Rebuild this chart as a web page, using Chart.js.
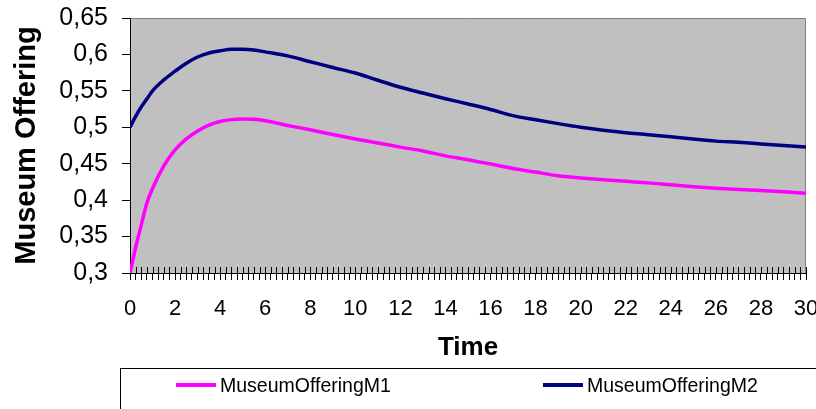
<!DOCTYPE html>
<html>
<head>
<meta charset="utf-8">
<script src="https://cdn.jsdelivr.net/npm/chart.js@4.4.1/dist/chart.umd.min.js"></script>
<style>
  body { margin: 0; background: #fff; overflow: hidden; }
  #wrap { position: relative; width: 816px; height: 409px; }
  #legend {
    position: absolute; left: 120px; top: 368px; width: 720px; height: 60px;
    border: 1px solid #000; box-sizing: border-box;
    font-family: "Liberation Sans", Arial, sans-serif; font-size: 19.5px; color: #000;
  }
  .item { position: absolute; top: 2px; height: 28px; display: flex; align-items: center; }
  .swatch { width: 40px; height: 4px; margin-right: 4px; }
</style>
</head>
<body>
<div id="wrap">
  <canvas id="museumChart" width="816" height="409"></canvas>
  <div id="legend"></div>
</div>
<script>
// time points (denser at the start where it rises fast)
const times = [0, 0.25, 0.5, 0.75, 1, 1.5, 2, 2.5, 3, 3.5, 4, 4.5, 5, 5.5, 6,
  7, 8, 9, 10, 11, 12, 13, 14, 15, 16, 17, 18, 19, 20, 21, 22, 23, 24, 25, 26, 27, 28, 29, 30];

const offeringM1 = [0.300, 0.335, 0.366, 0.396, 0.416, 0.447, 0.469, 0.484, 0.495, 0.503, 0.508, 0.5105, 0.5115, 0.511, 0.509,
  0.5025, 0.4965, 0.490, 0.484, 0.4785, 0.4728, 0.4675, 0.4608, 0.4555, 0.4495, 0.4435, 0.4385, 0.4335, 0.4305,
  0.428, 0.4258, 0.4237, 0.421, 0.4185, 0.4163, 0.4145, 0.4132, 0.4115, 0.4095];

const offeringM2 = [0.500, 0.515, 0.528, 0.539, 0.550, 0.565, 0.577, 0.588, 0.5965, 0.602, 0.605, 0.607, 0.607, 0.606, 0.6035,
  0.598, 0.590, 0.582, 0.5745, 0.5645, 0.555, 0.547, 0.5392, 0.532, 0.5245, 0.516, 0.5103, 0.505, 0.500,
  0.4958, 0.4924, 0.4899, 0.4869, 0.4838, 0.481, 0.4793, 0.4772, 0.475, 0.4728];

const seriesNames = ['MuseumOfferingM1', 'MuseumOfferingM2'];
const seriesColors = ['#FF00FF', '#000080'];

const yMin = 0.3, yMax = 0.65, yStep = 0.05;
const xMin = 0, xMax = 30, xMinorStep = 0.25, xLabelEvery = 2;

const FONT = "'Liberation Sans', Arial, sans-serif";

function toPoints(values) {
  return times.map((t, i) => ({ x: t, y: values[i] }));
}

// grey plot area with a thin frame on top and right
const plotBackground = {
  id: 'plotBackground',
  beforeDraw(chart) {
    const { ctx, chartArea: a } = chart;
    ctx.save();
    ctx.fillStyle = '#C0C0C0';
    ctx.fillRect(a.left, a.top, a.right - a.left, a.bottom - a.top);
    ctx.strokeStyle = '#808080';
    ctx.lineWidth = 1;
    ctx.beginPath();
    ctx.moveTo(a.left, a.top + 0.5);
    ctx.lineTo(a.right - 0.5, a.top + 0.5);
    ctx.lineTo(a.right - 0.5, a.bottom);
    ctx.stroke();
    ctx.restore();
  }
};

// x tick marks also reach a little into the plot (Excel "cross" ticks)
const crossTicks = {
  id: 'crossTicks',
  beforeDatasetsDraw(chart) {
    const { ctx, chartArea: a } = chart;
    const xs = chart.scales.x;
    ctx.save();
    ctx.strokeStyle = '#000';
    ctx.lineWidth = 1;
    ctx.beginPath();
    xs.ticks.forEach(t => {
      const px = Math.round(xs.getPixelForValue(t.value)) + 0.5;
      ctx.moveTo(px, a.bottom - 6);
      ctx.lineTo(px, a.bottom);
    });
    ctx.stroke();
    ctx.restore();
  }
};

new Chart(document.getElementById('museumChart'), {
  type: 'line',
  data: {
    datasets: [
      { label: seriesNames[0], data: toPoints(offeringM1), borderColor: seriesColors[0], backgroundColor: seriesColors[0] },
      { label: seriesNames[1], data: toPoints(offeringM2), borderColor: seriesColors[1], backgroundColor: seriesColors[1] }
    ]
  },
  options: {
    responsive: false,
    animation: false,
    devicePixelRatio: 1,
    layout: { padding: { left: 0, right: 10, top: 18, bottom: 41 } },
    elements: {
      point: { radius: 0 },
      line: { borderWidth: 3.5, cubicInterpolationMode: 'monotone' }
    },
    plugins: {
      legend: { display: false },
      tooltip: { enabled: false }
    },
    scales: {
      x: {
        type: 'linear',
        min: xMin,
        max: xMax,
        afterFit(scale) { scale.height = 95; scale.paddingRight = 10; },
        border: { display: true, color: '#000', width: 1 },
        grid: { drawOnChartArea: false, drawTicks: true, tickLength: 7, color: '#000' },
        ticks: {
          stepSize: xMinorStep,
          autoSkip: false,
          maxRotation: 0,
          padding: 16,
          color: '#000',
          font: { family: FONT, size: 22 },
          callback: v => (Math.abs(v / xLabelEvery - Math.round(v / xLabelEvery)) < 1e-9 ? String(Math.round(v)) : '')
        },
        title: {
          display: true,
          text: 'Time',
          color: '#000',
          padding: { top: 0, bottom: 5 },
          font: { family: FONT, size: 26, weight: 'bold' }
        }
      },
      y: {
        min: yMin,
        max: yMax,
        afterFit(scale) { scale.width = 130; scale.paddingTop = 0; scale.paddingBottom = 0; },
        border: { display: true, color: '#000', width: 1 },
        grid: { drawOnChartArea: false, drawTicks: true, tickLength: 8, color: '#000' },
        ticks: {
          stepSize: yStep,
          padding: 14,
          color: '#000',
          font: { family: FONT, size: 25 },
          callback: v => String(Math.round(v * 100) / 100).replace('.', ',')
        },
        title: {
          display: true,
          text: 'Museum Offering',
          color: '#000',
          padding: { top: 10, bottom: 0 },
          font: { family: FONT, size: 29, weight: 'bold' }
        }
      }
    }
  },
  plugins: [plotBackground, crossTicks]
});

// legend box under the chart
const legendEl = document.getElementById('legend');
const itemLeft = [55, 422];
seriesNames.forEach((name, i) => {
  const item = document.createElement('div');
  item.className = 'item';
  item.style.left = itemLeft[i] + 'px';
  const sw = document.createElement('span');
  sw.className = 'swatch';
  sw.style.background = seriesColors[i];
  const label = document.createElement('span');
  label.textContent = name;
  item.appendChild(sw);
  item.appendChild(label);
  legendEl.appendChild(item);
});
</script>
</body>
</html>
